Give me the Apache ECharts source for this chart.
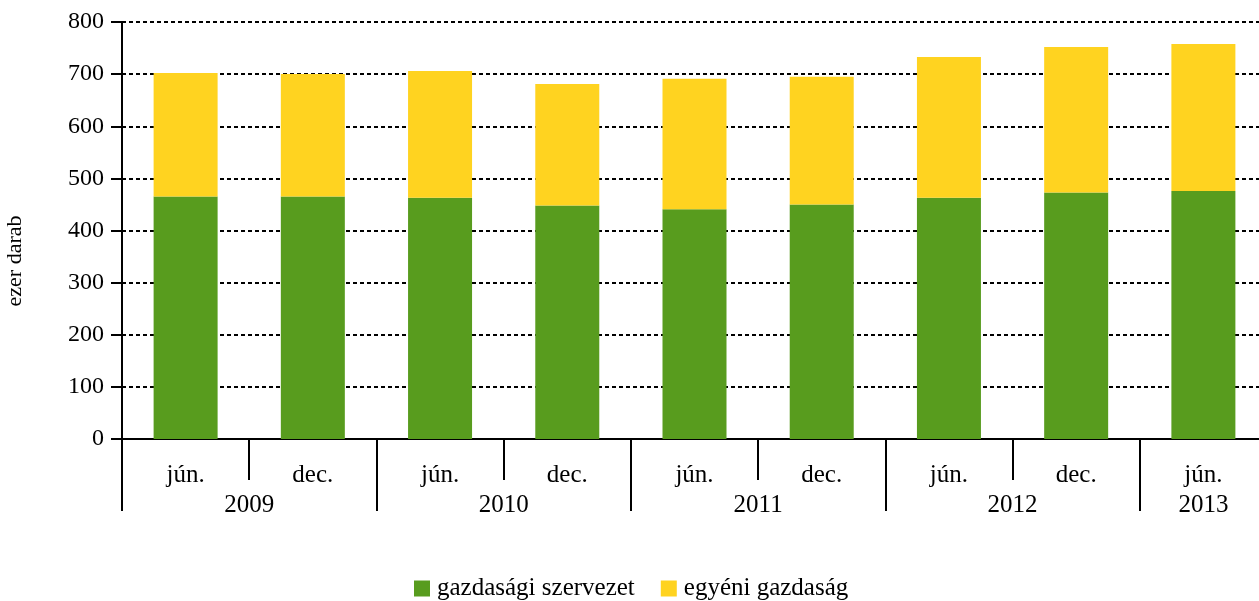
<!DOCTYPE html>
<html>
<head>
<meta charset="utf-8">
<script src="https://cdn.jsdelivr.net/npm/echarts@6/dist/echarts.min.js"></script>
<style>html,body{margin:0;padding:0;background:#fff;overflow:hidden}#c{width:1272px;height:601px}</style>
</head>
<body>
<div id="c"></div>
<script>
const months = ['jún.', 'dec.', 'jún.', 'dec.', 'jún.', 'dec.', 'jún.', 'dec.', 'jún.'];
const years = ['2009', '2010', '2011', '2012', '2013'];
const yearLabelPos = [1, 3, 5, 7, 8.5];
const yearTickPos = [0, 2, 4, 6, 8];
const gazdasagi = [465, 465, 463, 448, 441, 450, 463, 473, 476];
const egyeni = [237, 235, 243, 233, 250, 245, 270, 279, 282];
const seriesNames = ['gazdasági szervezet', 'egyéni gazdaság'];
const yAxisName = 'ezer darab';

const font = 'Liberation Serif';
const chart = echarts.init(document.getElementById('c'));
chart.setOption({
  animation: false,
  textStyle: { fontFamily: font, color: '#000' },
  grid: { left: 122, top: 22, bottom: 162, width: 1145 },
  legend: {
    top: 576, left: 414, padding: 0,
    itemWidth: 16, itemHeight: 16, itemGap: 26,
    icon: 'rect',
    textStyle: { fontFamily: font, fontSize: 25, color: '#000', padding: [0, 0, 0, 2] },
    data: seriesNames
  },
  graphic: [{
    type: 'text',
    x: 4, y: 261,
    rotation: Math.PI / 2,
    style: {
      text: yAxisName, fontFamily: font, fontSize: 22, fill: '#000',
      align: 'center', verticalAlign: 'top'
    }
  }],
  xAxis: [{
    type: 'category',
    data: months,
    axisLine: { lineStyle: { color: '#000', width: 2 } },
    axisTick: { show: true, interval: 0, alignWithLabel: false, length: 41, lineStyle: { color: '#000', width: 2 } },
    axisLabel: { fontFamily: font, fontSize: 25, color: '#000', margin: 24, interval: 0 }
  }, {
    type: 'value',
    position: 'bottom',
    min: 0, max: 9,
    axisLine: { show: false },
    splitLine: { show: false },
    axisTick: { show: true, customValues: yearTickPos, length: 72, lineStyle: { color: '#000', width: 2 } },
    axisLabel: {
      customValues: yearLabelPos,
      fontFamily: font, fontSize: 25, color: '#000', margin: 54,
      formatter: v => years[yearLabelPos.indexOf(v)]
    }
  }],
  yAxis: {
    type: 'value',
    min: 0, max: 800, interval: 100,
    axisLine: { show: true, lineStyle: { color: '#000', width: 2 } },
    axisTick: { show: true, length: 11, lineStyle: { color: '#000', width: 2 } },
    axisLabel: { fontFamily: font, fontSize: 24, color: '#000', margin: 18 },
    splitLine: { show: true, lineStyle: { color: '#000', width: 2, type: [4, 3] } }
  },
  series: [{
    name: seriesNames[0], type: 'bar', stack: 's', barWidth: 64,
    itemStyle: { color: '#589c1e' }, data: gazdasagi
  }, {
    name: seriesNames[1], type: 'bar', stack: 's', barWidth: 64,
    itemStyle: { color: '#ffd320' }, data: egyeni
  }]
});
</script>
</body>
</html>
